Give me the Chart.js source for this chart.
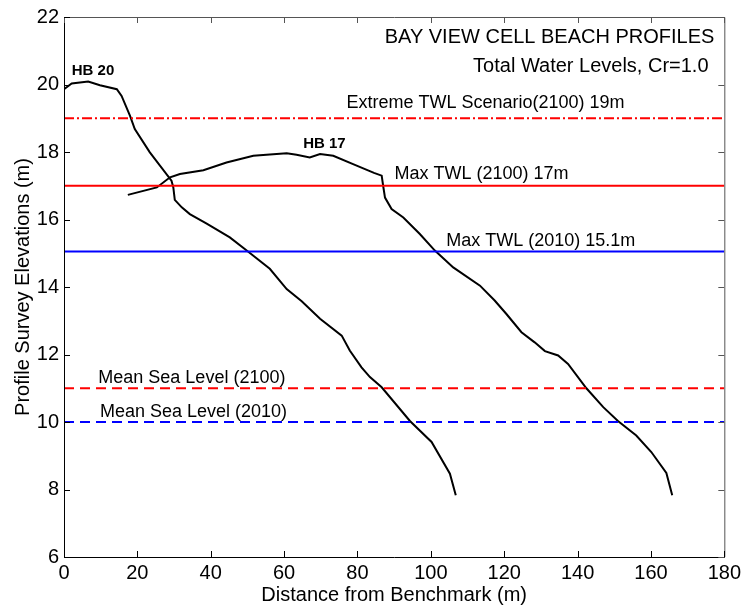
<!DOCTYPE html>
<html>
<head>
<meta charset="utf-8">
<script src="https://cdn.jsdelivr.net/npm/chart.js@4/dist/chart.umd.min.js"></script>
<style>
html,body{margin:0;padding:0;background:#fff;}
canvas{display:block;}
</style>
</head>
<body>
<canvas id="c" width="745" height="607"></canvas>
<script>
// ---- data ----
const hb20X = [0, 2.1, 6.6, 9.8, 14.4, 15.7, 18.0, 19.3, 23.4, 29.3, 29.8, 30.2, 32.1, 34.3, 38.9, 45.2, 49.8, 56.1, 60.7, 64.8, 69.8, 75.7, 77.9, 81.1, 83.4, 86.6, 94.3, 100.2, 105.2, 106.8];
const hb20Y = [19.86, 20.03, 20.09, 19.98, 19.86, 19.66, 19.07, 18.68, 17.99, 17.15, 16.95, 16.58, 16.36, 16.16, 15.88, 15.47, 15.08, 14.54, 13.94, 13.58, 13.06, 12.56, 12.12, 11.62, 11.33, 11.03, 10.03, 9.41, 8.47, 7.83];
const hb17X = [17.4, 25.3, 28.9, 31.6, 38.0, 44.3, 51.6, 55.2, 60.7, 63.4, 67.0, 69.8, 73.4, 78.8, 84.5, 86.6, 87.0, 87.5, 89.3, 92.5, 97.0, 101.1, 106.1, 113.4, 117.4, 120.6, 124.7, 128.3, 131.1, 134.7, 137.4, 142.4, 147.0, 151.0, 156.0, 160.1, 164.2, 165.8];
const hb17Y = [16.73, 16.95, 17.25, 17.35, 17.46, 17.69, 17.89, 17.92, 17.96, 17.92, 17.84, 17.94, 17.89, 17.64, 17.38, 17.30, 17.0, 16.65, 16.31, 16.06, 15.57, 15.08, 14.58, 14.04, 13.60, 13.20, 12.66, 12.36, 12.10, 11.97, 11.72, 11.00, 10.44, 10.03, 9.60, 9.11, 8.49, 7.83];
const profileNames = ['HB 20', 'HB 17'];
const levelValues = [19, 17, 15.05, 11, 10];
const levelNames = ['Extreme TWL Scenario(2100) 19m', 'Max TWL (2100) 17m', 'Max TWL (2010) 15.1m', 'Mean Sea Level (2100)', 'Mean Sea Level (2010)'];
const xTickValues = [0, 20, 40, 60, 80, 100, 120, 140, 160, 180];
const yTickValues = [6, 8, 10, 12, 14, 16, 18, 20, 22];
const titleLines = ['BAY VIEW CELL BEACH PROFILES', 'Total Water Levels, Cr=1.0'];
const xTitle = 'Distance from Benchmark (m)';
const yTitle = 'Profile Survey Elevations (m)';

// ---- styling / placement (not data) ----
const FONT = '"Liberation Sans", Arial, sans-serif';
const levelStyles = [
  {color: '#ff0000', dash: [10, 3, 2, 3]},
  {color: '#ff0000', dash: []},
  {color: '#0000ff', dash: []},
  {color: '#ff0000', dash: [10, 6]},
  {color: '#0000ff', dash: [10, 6]}
];
// text anchors in data units
const levelLabelAnchors = [[77.0, 19.46], [90.1, 17.36], [104.2, 15.37], [9.35, 11.31], [9.8, 10.29]];
const profileLabelAnchors = [[2.1, 20.40], [65.2, 18.25]];
const titleAnchors = [[177.3, 21.39], [175.7, 20.52]];

function pts(xs, ys) { return xs.map((x, i) => ({x: x, y: ys[i]})); }

const datasets = [];
levelValues.forEach((v, i) => {
  datasets.push({
    label: levelNames[i],
    data: [{x: xTickValues[0], y: v}, {x: xTickValues[xTickValues.length - 1], y: v}],
    showLine: true, pointRadius: 0, borderColor: levelStyles[i].color,
    borderWidth: 2, borderDash: levelStyles[i].dash, fill: false
  });
});
datasets.push({label: profileNames[0], data: pts(hb20X, hb20Y), showLine: true, pointRadius: 0, borderColor: '#000', borderWidth: 2, fill: false, tension: 0});
datasets.push({label: profileNames[1], data: pts(hb17X, hb17Y), showLine: true, pointRadius: 0, borderColor: '#000', borderWidth: 2, fill: false, tension: 0});

const overlay = {
  id: 'overlay',
  afterDraw(chart) {
    const ctx = chart.ctx, xs = chart.scales.x, ys = chart.scales.y, a = chart.chartArea;
    ctx.save();
    // frame
    ctx.lineWidth = 1;
    ctx.strokeStyle = '#555';
    ctx.beginPath();
    ctx.moveTo(a.left, a.top + 0.5); ctx.lineTo(a.right + 0.5, a.top + 0.5); ctx.lineTo(a.right + 0.5, a.bottom);
    ctx.stroke();
    ctx.strokeStyle = '#000';
    ctx.beginPath();
    ctx.moveTo(a.left + 0.5, a.top); ctx.lineTo(a.left + 0.5, a.bottom + 0.5); ctx.lineTo(a.right + 0.5, a.bottom + 0.5);
    ctx.stroke();
    // inward ticks
    const tl = 6;
    xTickValues.forEach(v => {
      const p = Math.round(xs.getPixelForValue(v)) + 0.5;
      ctx.strokeStyle = '#000';
      ctx.beginPath(); ctx.moveTo(p, a.bottom); ctx.lineTo(p, a.bottom - tl); ctx.stroke();
      ctx.strokeStyle = '#555';
      ctx.beginPath(); ctx.moveTo(p, a.top); ctx.lineTo(p, a.top + tl); ctx.stroke();
    });
    yTickValues.forEach(v => {
      const p = Math.round(ys.getPixelForValue(v)) + 0.5;
      ctx.strokeStyle = '#000';
      ctx.beginPath(); ctx.moveTo(a.left, p); ctx.lineTo(a.left + tl, p); ctx.stroke();
      ctx.strokeStyle = '#555';
      ctx.beginPath(); ctx.moveTo(a.right, p); ctx.lineTo(a.right - tl, p); ctx.stroke();
    });
    // texts
    ctx.fillStyle = '#000';
    ctx.textBaseline = 'middle';
    ctx.font = '18px ' + FONT;
    ctx.textAlign = 'left';
    levelNames.forEach((t, i) => {
      ctx.fillText(t, xs.getPixelForValue(levelLabelAnchors[i][0]), ys.getPixelForValue(levelLabelAnchors[i][1]));
    });
    ctx.font = 'bold 15px ' + FONT;
    profileNames.forEach((t, i) => {
      ctx.fillText(t, xs.getPixelForValue(profileLabelAnchors[i][0]), ys.getPixelForValue(profileLabelAnchors[i][1]));
    });
    ctx.font = '20px ' + FONT;
    ctx.textAlign = 'right';
    titleLines.forEach((t, i) => {
      ctx.fillText(t, xs.getPixelForValue(titleAnchors[i][0]), ys.getPixelForValue(titleAnchors[i][1]));
    });
    ctx.restore();
  }
};

new Chart(document.getElementById('c'), {
  type: 'scatter',
  data: {datasets: datasets},
  options: {
    responsive: false,
    animation: false,
    layout: {padding: {top: 16, right: 20, left: 0, bottom: 0}},
    plugins: {legend: {display: false}, tooltip: {enabled: false}},
    scales: {
      x: {
        type: 'linear', min: 0, max: 180,
        afterBuildTicks: s => { s.ticks = xTickValues.map(v => ({value: v})); },
        afterFit: s => { s.height = 50; },
        grid: {display: false, drawTicks: false},
        border: {display: false},
        ticks: {font: {family: FONT, size: 20}, color: '#000', padding: 4, maxRotation: 0},
        title: {display: true, text: xTitle, font: {family: FONT, size: 20}, color: '#000', padding: {top: 0, bottom: 0}}
      },
      y: {
        type: 'linear', min: 6, max: 22,
        afterBuildTicks: s => { s.ticks = yTickValues.map(v => ({value: v})); },
        afterFit: s => { s.width = 64; },
        grid: {display: false, drawTicks: false},
        border: {display: false},
        ticks: {font: {family: FONT, size: 20}, color: '#000', padding: 5},
        title: {display: true, text: yTitle, font: {family: FONT, size: 20}, color: '#000', padding: {top: 11, bottom: 0}}
      }
    }
  },
  plugins: [overlay]
});
</script>
</body>
</html>
